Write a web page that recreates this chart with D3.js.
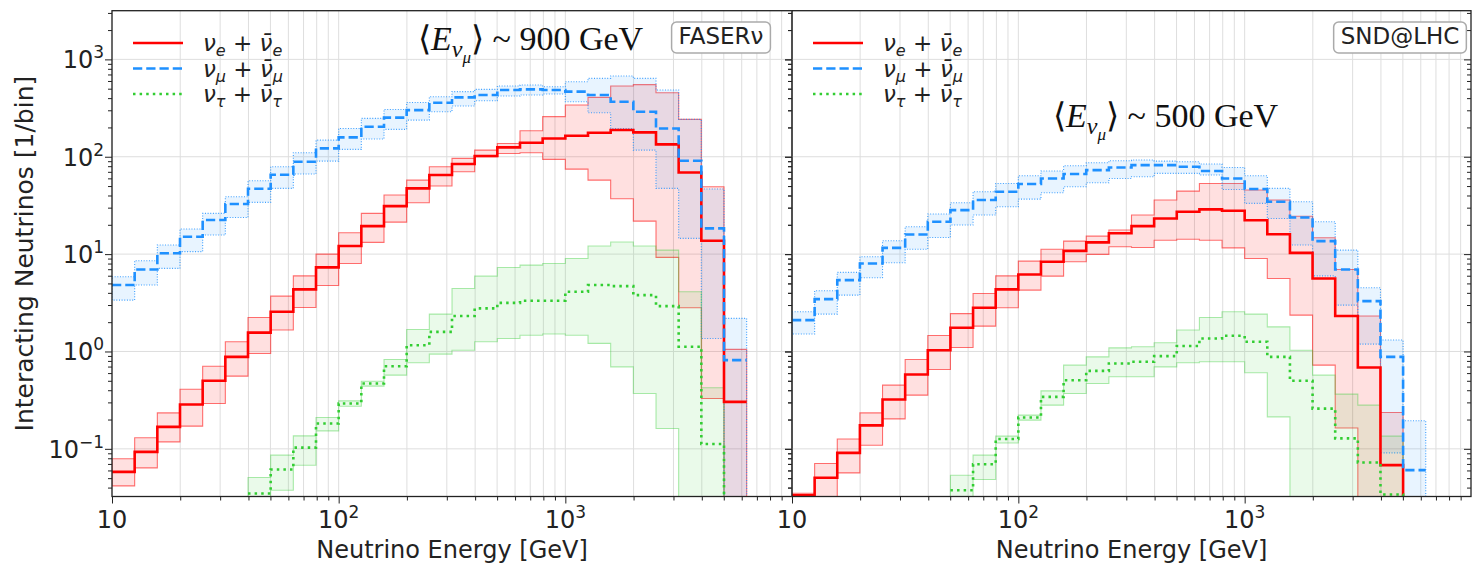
<!DOCTYPE html>
<html>
<head>
<meta charset="utf-8">
<script src="https://cdn.jsdelivr.net/npm/d3@7"></script>
<style>
  body { margin: 0; background: #fff; }
  svg { display: block; font-family: "DejaVu Sans", sans-serif; }
</style>
</head>
<body>
<svg id="chart" width="1472" height="574"></svg>
<script>
// energy bins, 10 per decade starting at 10 GeV (28 bins)
const binEdges = d3.range(29).map(i => Math.pow(10, 1 + i / 10));
const pad = n => Array(n).fill(null);

// FASERnu: interacting neutrinos per bin (central, upper, lower); 0 = below axis
const faserNueMid = [0.058, 0.093, 0.168, 0.285, 0.50, 0.88, 1.56, 2.56, 4.34, 7.3, 12.1, 19.4, 31.1, 47.3, 64.9, 84.1, 101.6, 124.7, 139.3, 154.2, 164.4, 176.6, 187.9, 177.8, 134, 69, 13.7, 0.304];
const faserNueHigh = [0.079, 0.13, 0.234, 0.41, 0.706, 1.26, 2.23, 3.70, 5.98, 10.0, 16.6, 26.2, 40.4, 57.5, 78.9, 96.2, 117, 137, 185, 258, 340, 407, 532, 550, 455, 242, 49.2, 1.05];
const faserNueLow = [0.0417, 0.0638, 0.118, 0.171, 0.292, 0.558, 0.953, 1.66, 2.83, 4.76, 8.02, 13.2, 21.3, 33.7, 50.0, 70.1, 100, 108, 110, 94, 74.6, 57.5, 37.0, 21.8, 9.25, 2.81, 0.329, 0];

const faserNumuMid = [4.81, 6.95, 10.2, 15.1, 22.4, 32.7, 46.9, 65.3, 88.9, 122, 158, 203, 252, 301, 359, 407, 431, 484, 492, 484, 466, 431, 367, 290, 195, 91, 18.4, 0.815];
const faserNumuHigh = [5.85, 8.55, 12.4, 18.1, 26.2, 38.8, 56.6, 78.9, 110, 148, 195, 248, 306, 361, 413, 466, 492, 532, 545, 524, 590, 638, 675, 638, 484, 242, 46.6, 2.19];
const faserNumuLow = [3.37, 4.81, 7.13, 10.6, 15.7, 23.8, 34.0, 47.3, 66.4, 90.2, 119, 152, 191, 238, 290, 332, 376, 420, 431, 441, 367, 283, 195, 117, 47.3, 14.5, 1.36, 0];

const faserNutauMid = [...pad(6), 0.0348, 0.0614, 0.103, 0.182, 0.292, 0.469, 0.706, 1.16, 1.59, 2.31, 2.77, 3.16, 3.32, 3.32, 4.10, 4.81, 4.69, 3.79, 2.92, 1.12, 0.112, 0];
const faserNutauHigh = [...pad(6), 0.0507, 0.0861, 0.136, 0.21, 0.311, 0.495, 0.828, 1.68, 2.42, 4.44, 5.94, 7.29, 7.71, 8.02, 9.02, 12.1, 13.3, 12.1, 11.0, 4.10, 0.424, null];
const faserNutauLow = [...pad(6), 0, 0.0376, 0.0679, 0.153, 0.274, 0.441, 0.571, 0.766, 0.94, 1.03, 1.26, 1.36, 1.47, 1.51, 1.47, 1.21, 0.695, 0.37, 0.162, 0, 0, null];

// SND@LHC
const sndNueMid = [0.0334, 0.0504, 0.091, 0.174, 0.321, 0.581, 1.03, 1.75, 2.81, 4.34, 6.18, 8.34, 10.8, 13.2, 16.4, 19.4, 23.2, 27.2, 28.8, 27.9, 22.3, 16.0, 10.3, 5.62, 2.31, 0.685, 0.068, 0];
const sndNueHigh = [0.035, 0.0706, 0.126, 0.234, 0.451, 0.828, 1.46, 2.45, 3.94, 5.98, 8.47, 11.2, 13.6, 15.3, 17.7, 25.2, 35.9, 44.4, 53.2, 53.2, 45.5, 35.9, 24.5, 14.7, 6.95, 2.31, 0.236, null];
const sndNueLow = [0, 0, 0.0566, 0.109, 0.203, 0.356, 0.653, 1.10, 1.82, 2.81, 4.27, 5.94, 8.34, 9.93, 11.9, 11.7, 13.9, 14.2, 13.9, 11.6, 9.02, 5.62, 2.36, 0.724, 0.164, 0, 0, null];

const sndNumuMid = [2.10, 3.45, 5.41, 8.02, 11.6, 15.9, 21.5, 28.3, 35.9, 43.7, 52.4, 59.8, 66.4, 72.9, 77.6, 82.0, 82.0, 78.9, 71.3, 59.8, 46.6, 34.5, 23.8, 13.6, 6.95, 3.29, 0.881, 0.0604];
const sndNumuHigh = [2.56, 4.20, 6.49, 9.40, 13.7, 19.1, 25.8, 33.7, 43.7, 53.2, 63.8, 71.3, 80.9, 86.7, 91.0, 92.5, 90.2, 88.9, 84.1, 77.6, 63.8, 47.3, 34.5, 21.5, 11.0, 4.51, 1.31, 0.194];
const sndNumuLow = [1.51, 2.42, 3.79, 5.71, 8.15, 11.2, 14.8, 19.9, 25.2, 30.6, 36.7, 42.7, 49.2, 54.1, 59.8, 62.4, 67.5, 67.5, 64.9, 46.1, 33.2, 23.2, 12.4, 5.98, 2.99, 1.19, 0.091, 0];

const sndNutauMid = [...pad(7), 0.0376, 0.0695, 0.126, 0.21, 0.342, 0.507, 0.632, 0.753, 0.783, 0.895, 1.14, 1.36, 1.45, 1.26, 0.881, 0.50, 0.259, 0.128, 0.0724, 0.034, 0];
const sndNutauHigh = [...pad(7), 0.0536, 0.0861, 0.135, 0.222, 0.394, 0.724, 0.881, 1.09, 1.12, 1.23, 1.66, 2.23, 2.56, 2.42, 1.79, 1.03, 0.571, 0.365, 0.281, 0.135, null];
const sndNutauLow = [...pad(7), 0, 0.0484, 0.115, 0.197, 0.281, 0.37, 0.469, 0.55, 0.55, 0.695, 0.766, 0.783, 0.783, 0.604, 0.213, 0, 0, 0, 0, 0, null];

const xMajor = [10, 100, 1000];
const xTickLabels = [["10", ""], ["10", "2"], ["10", "3"]];
const yMajor = [0.1, 1, 10, 100, 1000];
const yTickLabels = [["10", "\u22121"], ["10", "0"], ["10", "1"], ["10", "2"], ["10", "3"]];
const flavours = ["e", "\u03bc", "\u03c4"];
const detectors = ["FASER\u03bd", "SND@LHC"];
const meanEnergies = ["900", "500"];

const xMinor = [], yMinor = [];
[10, 100, 1000].forEach(d => d3.range(2, 10).forEach(k => xMinor.push(k * d)));
[0.01, 0.1, 1, 10, 100, 1000].forEach(d => d3.range(2, 10).forEach(k => { if (k * d > 0.0324 && k * d < 3162) yMinor.push(k * d); }));

const styles = [
  { color: "#ff0000", dash: null, fillOp: 0.12, edgeOp: 0.55, edgeDash: null },
  { color: "#1e90ff", dash: "9.25,4", fillOp: 0.1, edgeOp: 0.85, edgeDash: "1,1.65" },
  { color: "#32cd32", dash: "2.5,4.1", fillOp: 0.1, edgeOp: 0.4, edgeDash: null }
];

const panels = [
  { x0: 112, x1: 792, first: true, meanAt: [418, 50],
    series: [[faserNueMid, faserNueHigh, faserNueLow], [faserNumuMid, faserNumuHigh, faserNumuLow], [faserNutauMid, faserNutauHigh, faserNutauLow]] },
  { x0: 792, x1: 1471, first: false, meanAt: [1053, 127],
    series: [[sndNueMid, sndNueHigh, sndNueLow], [sndNumuMid, sndNumuHigh, sndNumuLow], [sndNutauMid, sndNutauHigh, sndNutauLow]] }
];

const plotTop = 10.7, plotBottom = 496.5;
const y = d3.scaleLog().domain([0.0324, 3162]).range([plotBottom, plotTop]);
const yv = v => v > 0 ? y(v) : plotBottom + 30;

const svg = d3.select("#chart");
const defs = svg.append("defs");

function stepPoints(vals) {
  const pts = [];
  vals.forEach((v, i) => { if (v != null) pts.push([binEdges[i], v], [binEdges[i + 1], v]); });
  return pts;
}

function bandPoints(hi, lo) {
  const up = [], dn = [];
  hi.forEach((v, i) => {
    if (v == null) return;
    up.push([binEdges[i], v], [binEdges[i + 1], v]);
    dn.push([binEdges[i], lo[i]], [binEdges[i + 1], lo[i]]);
  });
  return up.concat(dn.reverse());
}

function addPower(sel, base, exp) {
  sel.append("tspan").text(base);
  if (exp) sel.append("tspan").attr("font-size", 17).attr("dy", -10).text(exp);
}

panels.forEach((p, pi) => {
  const x = d3.scaleLog().domain([10, 1e4]).range([p.x0, p.x1]);
  const g = svg.append("g");
  const clipId = "clip" + pi;
  defs.append("clipPath").attr("id", clipId).append("rect")
    .attr("x", p.x0).attr("y", plotTop).attr("width", p.x1 - p.x0).attr("height", plotBottom - plotTop);

  // grid
  g.append("g").selectAll("line").data(xMajor.concat(xMinor)).join("line")
    .attr("x1", d => x(d)).attr("x2", d => x(d)).attr("y1", plotTop).attr("y2", plotBottom)
    .attr("stroke", "#dedede").attr("stroke-width", 1);
  g.append("g").selectAll("line").data(yMajor).join("line")
    .attr("x1", p.x0).attr("x2", p.x1).attr("y1", d => y(d)).attr("y2", d => y(d))
    .attr("stroke", "#dedede").attr("stroke-width", 1);

  const line = d3.line().x(d => x(d[0])).y(d => yv(d[1]));
  const plot = g.append("g").attr("clip-path", `url(#${clipId})`);

  // uncertainty bands
  p.series.forEach(([mid, hi, lo], si) => {
    const s = styles[si];
    plot.append("path")
      .attr("d", line(bandPoints(hi, lo)) + "Z")
      .attr("fill", s.color).attr("fill-opacity", s.fillOp)
      .attr("stroke", s.color).attr("stroke-opacity", s.edgeOp)
      .attr("stroke-width", 1.1)
      .attr("stroke-dasharray", s.edgeDash);
  });
  // central values
  p.series.forEach(([mid], si) => {
    const s = styles[si];
    plot.append("path")
      .attr("d", line(stepPoints(mid)))
      .attr("fill", "none").attr("stroke", s.color).attr("stroke-width", 2.6)
      .attr("stroke-dasharray", s.dash);
  });

  // ticks
  const axisG = g.append("g");
  axisG.append("g").attr("transform", `translate(0,${plotBottom})`)
    .call(d3.axisBottom(x).tickValues(xMajor).tickSize(7).tickFormat(""));
  axisG.append("g").attr("transform", `translate(0,${plotBottom})`)
    .call(d3.axisBottom(x).tickValues(xMinor).tickSize(4).tickFormat(""));
  axisG.append("g").attr("transform", `translate(${p.x0},0)`)
    .call(d3.axisLeft(y).tickValues(yMajor).tickSize(7).tickFormat(""));
  axisG.append("g").attr("transform", `translate(${p.x0},0)`)
    .call(d3.axisLeft(y).tickValues(yMinor).tickSize(4).tickFormat(""));
  axisG.append("g").attr("transform", `translate(${p.x1},0)`)
    .call(d3.axisLeft(y).tickValues(yMajor).tickSize(7).tickFormat(""));
  axisG.append("g").attr("transform", `translate(${p.x1},0)`)
    .call(d3.axisLeft(y).tickValues(yMinor).tickSize(4).tickFormat(""));
  axisG.selectAll(".domain").remove();
  axisG.selectAll(".tick line").attr("stroke", "#222").attr("stroke-width", 1);

  // frame
  g.append("rect").attr("x", p.x0).attr("y", plotTop)
    .attr("width", p.x1 - p.x0).attr("height", plotBottom - plotTop)
    .attr("fill", "none").attr("stroke", "#222").attr("stroke-width", 1.3);

  // x tick labels and title
  xMajor.forEach((v, i) => {
    const t = g.append("text").attr("x", x(v)).attr("y", 528)
      .attr("text-anchor", "middle").attr("font-size", 24).attr("fill", "#222");
    addPower(t, xTickLabels[i][0], xTickLabels[i][1]);
  });
  g.append("text").attr("x", (p.x0 + p.x1) / 2).attr("y", 558)
    .attr("text-anchor", "middle").attr("font-size", 24).attr("fill", "#222")
    .text("Neutrino Energy [GeV]");

  if (p.first) {
    yMajor.forEach((v, i) => {
      const t = g.append("text").attr("x", p.x0 - 8).attr("y", y(v) + 9)
        .attr("text-anchor", "end").attr("font-size", 24).attr("fill", "#222");
      addPower(t, yTickLabels[i][0], yTickLabels[i][1]);
    });
    g.append("text").attr("transform", `translate(33,${(plotTop + plotBottom) / 2}) rotate(-90)`)
      .attr("text-anchor", "middle").attr("font-size", 25).attr("fill", "#222")
      .text("Interacting Neutrinos [1/bin]");
  }

  // legend
  const legRows = [43, 68.5, 94];
  flavours.forEach((f, i) => {
    const s = styles[i];
    g.append("line").attr("x1", p.x0 + 21).attr("x2", p.x0 + 71)
      .attr("y1", legRows[i]).attr("y2", legRows[i])
      .attr("stroke", s.color).attr("stroke-width", 2.6).attr("stroke-dasharray", s.dash);
    const t = g.append("text").attr("x", p.x0 + 91).attr("y", legRows[i] + 8)
      .attr("font-size", 23).attr("fill", "#222");
    t.append("tspan").attr("font-style", "italic").text("\u03bd");
    t.append("tspan").attr("font-style", "italic").attr("font-size", 16).attr("dy", 5).text(f);
    t.append("tspan").attr("dy", -5).text(" + ");
    t.append("tspan").attr("font-style", "italic").text("\u03bd\u0304");
    t.append("tspan").attr("font-style", "italic").attr("font-size", 16).attr("dy", 5).text(f);
  });

  // detector box
  const boxG = g.append("g");
  const boxRect = boxG.append("rect");
  const boxText = boxG.append("text").attr("x", p.x1 - 71).attr("y", 44)
    .attr("text-anchor", "middle").attr("font-size", 23).attr("fill", "#222")
    .text(detectors[pi]);
  const bb = boxText.node().getBBox();
  boxRect.attr("x", bb.x - 7).attr("y", 22).attr("width", bb.width + 14).attr("height", 31)
    .attr("rx", 5).attr("fill", "#fff").attr("stroke", "#aaa").attr("stroke-width", 1.5);

  // mean energy annotation
  const m = g.append("text").attr("x", p.meanAt[0]).attr("y", p.meanAt[1])
    .attr("font-family", "'Liberation Serif', serif").attr("font-size", 34).attr("fill", "#111");
  m.append("tspan").text("\u27e8");
  m.append("tspan").attr("font-style", "italic").text("E");
  m.append("tspan").attr("font-style", "italic").attr("font-size", 24).attr("dy", 7).text("\u03bd");
  m.append("tspan").attr("font-style", "italic").attr("font-size", 17).attr("dy", 6).text("\u03bc");
  m.append("tspan").attr("dy", -13).text("\u27e9 ~ " + meanEnergies[pi] + " GeV");
});
</script>
</body>
</html>
